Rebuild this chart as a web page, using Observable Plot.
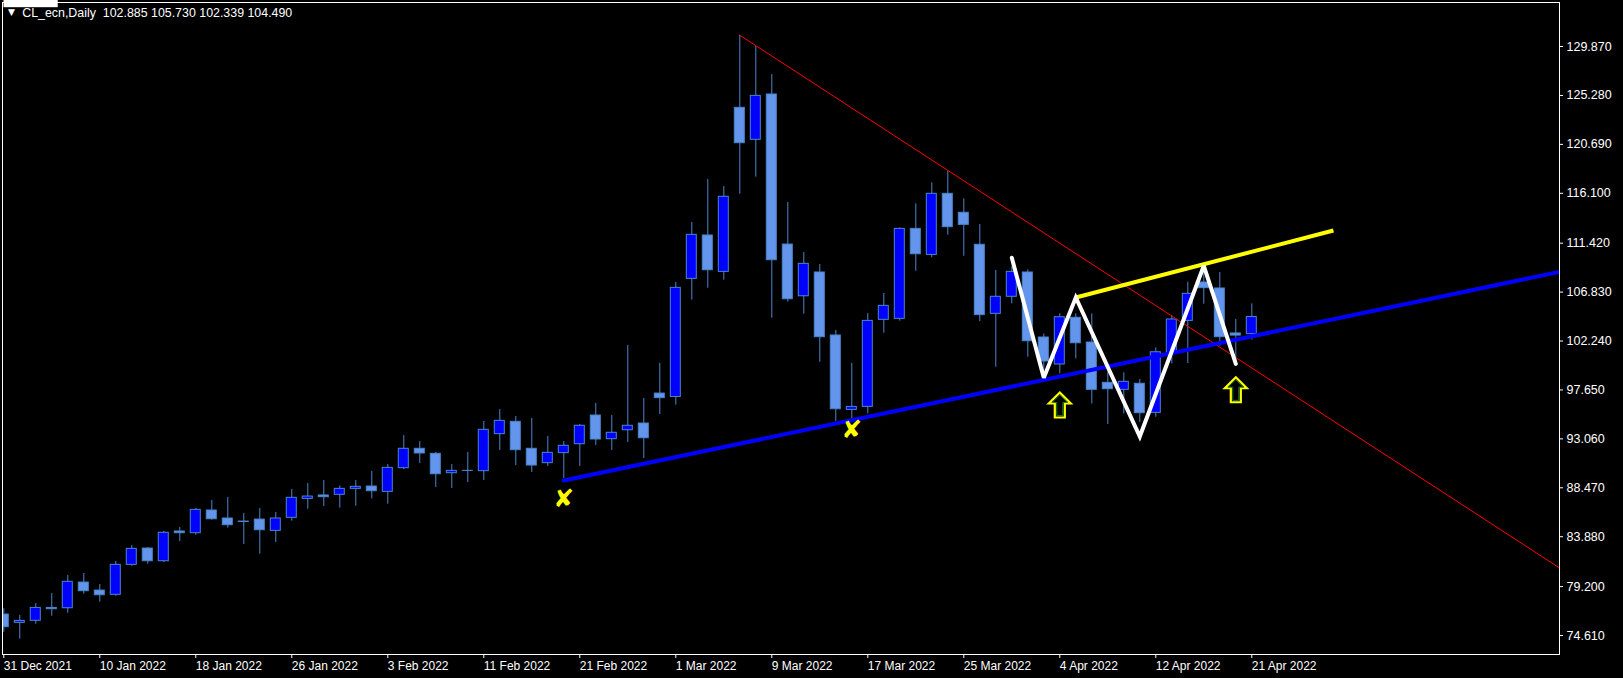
<!DOCTYPE html>
<html>
<head>
<meta charset="utf-8">
<script src="https://cdn.jsdelivr.net/npm/d3@7"></script>
<script src="https://cdn.jsdelivr.net/npm/@observablehq/plot@0.6"></script>
<style>
html, body { margin: 0; padding: 0; background: #000; overflow: hidden; }
#chart { width: 1623px; height: 678px; }
</style>
</head>
<body>
<div id="chart"></div>
<script>
// ---------- data ----------
const dates = [
  "31 Dec 2021","3 Jan 2022","4 Jan 2022","5 Jan 2022","6 Jan 2022","7 Jan 2022",
  "10 Jan 2022","11 Jan 2022","12 Jan 2022","13 Jan 2022","14 Jan 2022","17 Jan 2022",
  "18 Jan 2022","19 Jan 2022","20 Jan 2022","21 Jan 2022","24 Jan 2022","25 Jan 2022",
  "26 Jan 2022","27 Jan 2022","28 Jan 2022","31 Jan 2022","1 Feb 2022","2 Feb 2022",
  "3 Feb 2022","4 Feb 2022","7 Feb 2022","8 Feb 2022","9 Feb 2022","10 Feb 2022",
  "11 Feb 2022","14 Feb 2022","15 Feb 2022","16 Feb 2022","17 Feb 2022","18 Feb 2022",
  "21 Feb 2022","22 Feb 2022","23 Feb 2022","24 Feb 2022","25 Feb 2022","28 Feb 2022",
  "1 Mar 2022","2 Mar 2022","3 Mar 2022","4 Mar 2022","7 Mar 2022","8 Mar 2022",
  "9 Mar 2022","10 Mar 2022","11 Mar 2022","14 Mar 2022","15 Mar 2022","16 Mar 2022",
  "17 Mar 2022","18 Mar 2022","21 Mar 2022","22 Mar 2022","23 Mar 2022","24 Mar 2022",
  "25 Mar 2022","28 Mar 2022","29 Mar 2022","30 Mar 2022","31 Mar 2022","1 Apr 2022",
  "4 Apr 2022","5 Apr 2022","6 Apr 2022","7 Apr 2022","8 Apr 2022","11 Apr 2022",
  "12 Apr 2022","13 Apr 2022","14 Apr 2022","18 Apr 2022","19 Apr 2022","20 Apr 2022",
  "21 Apr 2022"
];
const open = [
  76.58,75.80,75.99,77.20,77.17,79.58, 78.83,78.43,81.24,82.77,81.58,84.37,
  84.21,86.34,85.59,85.30,85.49,84.43, 85.65,87.43,87.75,87.81,88.37,88.59,
  88.09,90.31,92.13,91.66,89.84,90.06, 90.03,93.50,94.66,92.13,90.78,91.72,
  92.56,95.25,93.03,93.87,94.50,97.31, 96.99,108.07,112.14,108.73,124.12,121.12,
  125.37,111.29,106.44,108.67,102.76,95.78, 96.06,104.23,104.32,112.76,110.32,116.05,
  114.27,111.27,104.79,106.39,108.67,102.57, 100.04,104.42,102.10,98.32,97.66,98.23,
  95.50,101.04,104.13,107.73,107.17,102.95, 102.885
];
const high = [
  77.12,76.49,77.61,78.55,80.24,80.43, 79.40,81.56,83.05,82.87,84.37,84.74,
  86.53,87.28,87.56,86.06,86.53,86.15, 88.31,88.87,89.15,88.65,89.15,90.00,
  90.65,93.37,92.81,91.78,90.65,91.78, 94.69,95.81,95.16,94.97,93.28,92.81,
  94.41,96.38,95.25,101.82,96.85,100.13, 107.73,113.36,117.39,116.73,130.93,129.87,
  127.24,115.24,110.54,109.42,103.23,100.13, 104.82,106.70,112.86,115.11,117.08,118.17,
  115.58,113.17,108.86,109.20,108.92,102.90, 104.79,104.79,104.79,99.32,99.26,98.63,
  101.60,104.63,107.76,109.10,108.67,104.26, 105.730
];
const low = [
  74.92,74.27,75.67,76.42,76.70,78.49, 77.74,78.30,81.11,81.30,81.46,83.43,
  84.02,85.43,84.68,83.15,82.24,83.34, 85.34,86.46,86.71,86.56,86.74,87.43,
  86.93,90.18,90.75,88.50,88.40,88.96, 89.15,91.97,90.56,89.90,90.47,89.34,
  90.47,92.44,91.97,92.72,91.22,95.34, 96.22,106.07,107.19,107.95,116.01,117.61,
  104.38,105.88,104.76,100.25,94.69,94.94, 95.41,102.97,104.10,108.79,110.05,112.17,
  110.19,104.07,99.78,105.73,100.72,99.40, 99.16,100.57,96.34,94.41,95.41,94.60,
  95.09,100.10,100.13,105.69,101.75,100.41, 102.339
];
const close = [
  75.39,75.98,77.20,77.08,79.65,78.77, 78.39,81.24,82.74,81.58,84.25,84.21,
  86.40,85.52,84.96,85.26,84.49,85.59, 87.53,87.65,87.59,88.37,88.56,88.15,
  90.34,92.13,91.69,89.74,90.06,90.05, 93.91,94.75,92.00,90.56,91.75,92.41,
  94.29,93.00,93.63,94.29,93.12,96.88, 107.23,112.20,108.88,115.77,120.80,125.24,
  109.82,106.16,109.48,102.60,95.84,96.06, 104.13,105.54,112.76,110.38,116.05,112.92,
  113.14,104.67,106.39,108.73,102.22,100.32, 104.47,102.03,97.66,97.72,98.41,95.47,
  101.19,104.26,106.67,107.20,102.60,102.75, 104.490
];
const xTickLabels = [
  "31 Dec 2021","10 Jan 2022","18 Jan 2022","26 Jan 2022","3 Feb 2022","11 Feb 2022",
  "21 Feb 2022","1 Mar 2022","9 Mar 2022","17 Mar 2022","25 Mar 2022","4 Apr 2022",
  "12 Apr 2022","21 Apr 2022"
];
const yTickValues = [129.870,125.280,120.690,116.100,111.420,106.830,102.240,97.650,93.060,88.470,83.880,79.200,74.610];
const symbolName = "CL_ecn,Daily";
const lastQuote = [102.885, 105.730, 102.339, 104.490];

// drawn objects: [bar index, price]
const redTrend = [[46, 130.93], [97.3, 80.88]];
const blueTrend = [[35, 89.15], [97.3, 108.75]];
const yellowTrend = [[67, 106.32], [83.1, 112.61]];
const whiteZigzag = [[63, 110.05], [65, 98.79], [67, 106.32], [71, 93.28], [75, 109.3], [77, 100.1]];
const crossMarks = [[35, 87.46], [53, 93.88]];
const arrowMarks = [[66, 96.24], [77, 97.67]];

// ---------- styling ----------
const W = 1623, H = 678;
const bullFill = "#0000FF", bearFill = "#6495ED", wickColor = "#4A86CC";
const xDomain = [-0.08, 97.23];
const yDomain = [72.83, 134.0];
const halfBody = 0.3125;

const candles = dates.map((d, i) => ({i, d, o: open[i], h: high[i], l: low[i], c: close[i]}));
const bulls = candles.filter(d => d.c >= d.o);
const bears = candles.filter(d => d.c < d.o);

function makeSymbol(pts) {
  return {
    draw(ctx, size) {
      const s = Math.sqrt(size / Math.PI) / 10;
      ctx.moveTo(pts[0][0] * s, pts[0][1] * s);
      for (const p of pts.slice(1)) ctx.lineTo(p[0] * s, p[1] * s);
      ctx.closePath();
    }
  };
}
const arrowOuter = makeSymbol([[0,-12.5],[11,-1.5],[5,-1.5],[5,12.5],[-5,12.5],[-5,-1.5],[-11,-1.5]]);
const arrowInner = makeSymbol([[0,-10],[7.8,-2.6],[3,-2.6],[3,10.6],[-3,10.6],[-3,-2.6],[-7.8,-2.6]]);

const header = `${symbolName}\u00a0\u00a0${lastQuote.map(v => v.toFixed(3)).join(" ")}`;

const chart = Plot.plot({
  width: W,
  height: H,
  marginTop: 2,
  marginRight: 64,
  marginBottom: 24,
  marginLeft: 2,
  style: {background: "#000", color: "#fff", fontFamily: "'Liberation Sans', Arial, sans-serif", fontSize: "12px"},
  x: {type: "linear", domain: xDomain, label: null},
  y: {type: "linear", domain: yDomain, label: null},
  marks: [
    Plot.ruleX(candles, {x: "i", y1: "l", y2: "h", stroke: wickColor, strokeWidth: 1, clip: true}),
    Plot.rect(bears, {x1: d => d.i - halfBody, x2: d => d.i + halfBody, y1: d => Math.min(d.o, d.c), y2: d => Math.max(d.o, d.c), fill: bearFill, stroke: wickColor, strokeWidth: 1, clip: true}),
    Plot.rect(bulls, {x1: d => d.i - halfBody, x2: d => d.i + halfBody, y1: d => Math.min(d.o, d.c), y2: d => Math.max(d.o, d.c), fill: bullFill, stroke: wickColor, strokeWidth: 1, clip: true}),
    Plot.line(redTrend, {x: d => d[0], y: d => d[1], stroke: "#FF0000", strokeWidth: 1, clip: true}),
    Plot.line(blueTrend, {x: d => d[0], y: d => d[1], stroke: "#0000FF", strokeWidth: 4, clip: true}),
    Plot.line(yellowTrend, {x: d => d[0], y: d => d[1], stroke: "#FFFF00", strokeWidth: 4, strokeLinecap: "butt", clip: true}),
    Plot.line(whiteZigzag, {x: d => d[0], y: d => d[1], stroke: "#FFFFFF", strokeWidth: 4, strokeLinejoin: "miter", strokeMiterlimit: 3, clip: true}),
    Plot.text(crossMarks, {x: d => d[0], y: d => d[1], text: () => "\u2718", fill: "#FFFF00", fontSize: 25, fontFamily: "'DejaVu Sans', sans-serif", fontWeight: "bold"}),
    Plot.dot(arrowMarks, {x: d => d[0], y: d => d[1], symbol: arrowOuter, r: 10, stroke: "#FFFF00", strokeWidth: 2.2, fill: "none"}),
    Plot.dot(arrowMarks, {x: d => d[0], y: d => d[1], symbol: arrowInner, r: 10, stroke: "#1E7A1E", strokeWidth: 1, fill: "none"}),
    Plot.text(["\u25BC"], {frameAnchor: "top-left", text: d => d, dx: 9, dy: 6, fontSize: 9, fill: "#fff", textAnchor: "middle", lineAnchor: "top", fontFamily: "'DejaVu Sans', sans-serif"}),
    Plot.text([header], {frameAnchor: "top-left", text: d => d, dx: 19.7, dy: 5.5, fontSize: 12.4, fill: "#fff", textAnchor: "start", lineAnchor: "top"}),
    Plot.axisY({anchor: "right", ticks: yTickValues, tickFormat: d => d.toFixed(3), tickSize: 3, tickPadding: 4, fontSize: 12.5}),
    Plot.axisX({anchor: "bottom", ticks: xTickLabels.map(l => dates.indexOf(l)), tickFormat: i => dates[i], tickSize: 4, tickPadding: 3, textAnchor: "start", fontSize: 12}),
    Plot.frame({stroke: "#fff"}),
    Plot.text([lastQuote[3]], {x: () => xDomain[1], y: d => d, text: d => d.toFixed(3), dx: 7, textAnchor: "start", fill: "#000", fontSize: 12.5, className: "lastprice"})
  ]
});
document.getElementById("chart").appendChild(chart);

// white box behind the current price label
const lp = chart.querySelector(".lastprice text");
if (lp) {
  const bb = lp.getBBox();
  const rect = document.createElementNS("http://www.w3.org/2000/svg", "rect");
  rect.setAttribute("x", bb.x - 4);
  rect.setAttribute("y", bb.y + bb.height / 2 - 6.7);
  rect.setAttribute("width", bb.width + 9);
  rect.setAttribute("height", 13.4);
  rect.setAttribute("fill", "#fff");
  lp.parentNode.insertBefore(rect, lp);
}
</script>
</body>
</html>
